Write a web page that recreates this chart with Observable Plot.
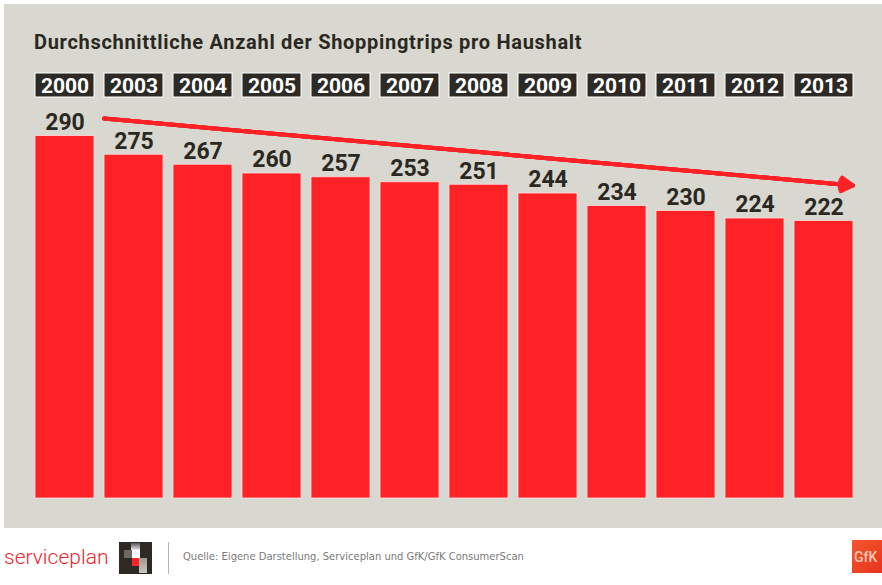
<!DOCTYPE html>
<html>
<head>
<meta charset="utf-8">
<script src="https://cdn.jsdelivr.net/npm/d3@7"></script>
<script src="https://cdn.jsdelivr.net/npm/@observablehq/plot@0.6"></script>
<style>
  html, body { margin: 0; padding: 0; background: #fff; }
  #wrap { position: relative; width: 882px; height: 585px; overflow: hidden; }
  #panel { position: absolute; left: 4px; top: 4px; width: 878px; height: 524px; background: #d8d8d0; }
  #chart { position: absolute; left: 0; top: 0; }
  #title { position: absolute; left: 34px; top: 29px; font-family: Roboto, sans-serif; font-weight: 700;
           font-size: 20px; line-height: 26px; letter-spacing: 0.7px; color: #2b2822; white-space: nowrap; }
  #brand { position: absolute; left: 4px; top: 543px; font-family: Roboto, sans-serif; font-weight: 300;
           font-size: 21px; line-height: 28px; color: #e8262c; }
  #logo { position: absolute; left: 119px; top: 542px; width: 33px; height: 32px; background: #2d2a25; }
  #logo div { position: absolute; }
  #divider { position: absolute; left: 168px; top: 542px; width: 1px; height: 32px; background: #b5b5b5; }
  #source { position: absolute; left: 183px; top: 549px; font-family: "DejaVu Sans Condensed", "Liberation Sans Narrow", sans-serif;
            font-size: 11.1px; line-height: 16px; color: #7a7a7a; white-space: nowrap; }
  #gfk { position: absolute; left: 852px; top: 540px; width: 30px; height: 33px;
         background: linear-gradient(135deg, #f3582e, #e8321f); overflow: hidden; }
  #gfk span { position: absolute; left: 2px; top: 8px; font-family: Roboto, sans-serif; font-size: 14px; font-weight: 500;
              color: #f6c9b4; line-height: 18px; }
</style>
</head>
<body>
<div id="wrap">
  <div id="panel"></div>
  <div id="chart"></div>
  <div id="title">Durchschnittliche Anzahl der Shoppingtrips pro Haushalt</div>
  <div id="brand">serviceplan</div>
  <div id="logo">
    <div style="left:12px;top:1px;width:9px;height:8px;background:linear-gradient(#555,#fff)"></div>
    <div style="left:5px;top:8px;width:8px;height:8px;background:#6a6a60"></div>
    <div style="left:13px;top:8px;width:8px;height:8px;background:#fff"></div>
    <div style="left:13px;top:16px;width:7px;height:8px;background:#ff2228"></div>
    <div style="left:20px;top:16px;width:8px;height:15px;background:linear-gradient(#9a9a90,#c8c8c0)"></div>
  </div>
  <div id="divider"></div>
  <div id="source">Quelle: Eigene Darstellung, Serviceplan und GfK/GfK ConsumerScan</div>
  <div id="gfk"><span>GfK</span></div>
</div>
<script>
const years  = ["2000","2003","2004","2005","2006","2007","2008","2009","2010","2011","2012","2013"];
const values = [290, 275, 267, 260, 257, 253, 251, 244, 234, 230, 224, 222];
// trend arrow annotation (start and end level, in trips)
const trendYears  = ["2003", "2013"];
const trendLevels = [301.8, 252.5];

const data = years.map((year, i) => ({year, value: values[i]}));
const trend = [{x1: trendYears[0], y1: trendLevels[0], x2: trendYears[1], y2: trendLevels[1]}];

const RED = "#fe2227";
const DARK = "#2b2822";
const FONT = "Roboto, sans-serif";

const arrowHeads = [62, 45, 30, 15].map(a => Plot.arrow(trend, {
  x1: "x1", y1: "y1", x2: "x2", y2: "y2",
  stroke: RED, strokeWidth: 4, headLength: 5, headAngle: a,
  insetStart: -30, insetEnd: -29
}));

const plot = Plot.plot({
  width: 882,
  height: 528,
  marginTop: 73,
  marginBottom: 30,
  marginLeft: 34,
  marginRight: 27,
  style: {background: "transparent", overflow: "visible"},
  x: {type: "band", domain: years, paddingInner: 0.1405, paddingOuter: 0, axis: null},
  y: {domain: [0, 290], range: [498, 135.5], axis: null},
  marks: [
    Plot.cell(years, {x: d => d, fill: "#2d2a25", stroke: "#ffffff", strokeWidth: 1, insetBottom: 401}),
    Plot.text(years, {x: d => d, text: d => d, frameAnchor: "top", lineAnchor: "middle", dy: 12.5,
      fill: "#ffffff", fontSize: 21, fontWeight: 700, fontFamily: FONT}),
    Plot.barY(data, {x: "year", y: "value", fill: RED, stroke: "#ffe0e0", strokeOpacity: 0.8, strokeWidth: 1}),
    Plot.text(data, {x: "year", y: "value", text: d => String(d.value), lineAnchor: "middle", dy: -13.5,
      fill: DARK, fontSize: 23, fontWeight: 700, fontFamily: FONT}),
    ...arrowHeads
  ]
});
document.getElementById("chart").appendChild(plot);
</script>
</body>
</html>
